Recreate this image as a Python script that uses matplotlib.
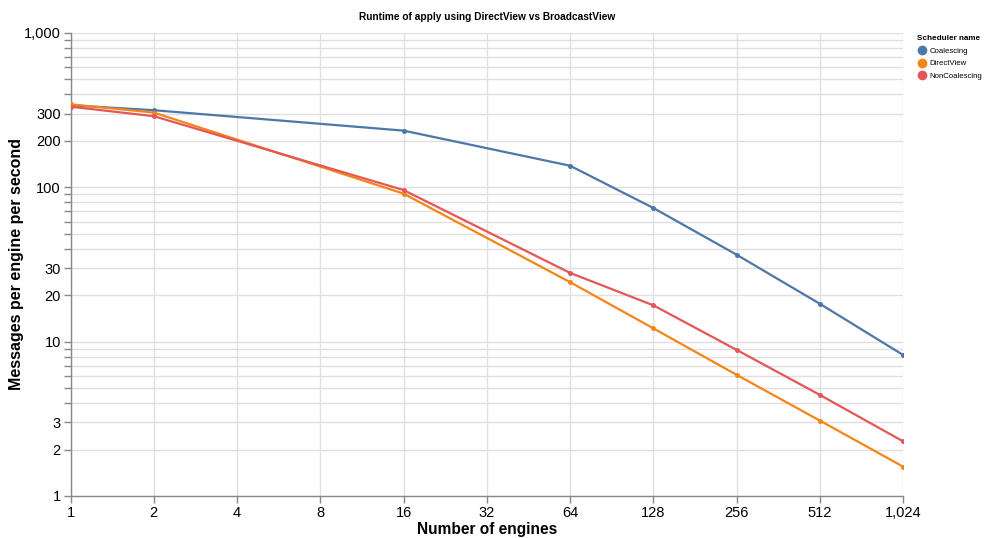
import numpy as np
import matplotlib.pyplot as plt
from matplotlib.ticker import FixedLocator, FuncFormatter
from matplotlib.lines import Line2D

plt.rcParams['font.family'] = ['Liberation Sans', 'DejaVu Sans']

engines = [1, 2, 16, 64, 128, 256, 512, 1024]
coalescing = [340, 316, 233, 138, 73.5, 36.6, 17.6, 8.2]
directview = [345, 305, 91, 24.3, 12.2, 6.1, 3.08, 1.55]
noncoalescing = [333, 289, 96, 27.9, 17.2, 8.85, 4.52, 2.26]

series = [
    ("Coalescing", coalescing, "#4c78a8"),
    ("DirectView", directview, "#f58518"),
    ("NonCoalescing", noncoalescing, "#e45756"),
]

x_ticks = [1, 2, 4, 8, 16, 32, 64, 128, 256, 512, 1024]
y_labeled = [1, 2, 3, 10, 20, 30, 100, 200, 300, 1000]

fig = plt.figure(figsize=(9.85, 5.38), dpi=100)
ax = fig.add_axes([0.0716, 0.0781, 0.9168 - 0.0716, 0.9387 - 0.0781])

for name, vals, col in series:
    ax.plot(engines, vals, color=col, lw=1.6, marker='o', ms=3.6,
            markeredgewidth=0, zorder=3)

ax.set_xscale('log', base=2)
ax.set_yscale('log')
ax.set_xlim(1, 1024)
ax.set_ylim(1, 1000)

ax.xaxis.set_major_locator(FixedLocator(x_ticks))
ax.xaxis.set_minor_locator(FixedLocator([]))
ax.xaxis.set_major_formatter(FuncFormatter(lambda v, p: f"{int(round(v)):,}"))

# grid and ticks at every 1..9 step of each decade, labels only on some
y_all = [m * 10**d for d in range(0, 3) for m in range(1, 10)] + [1000]
ax.yaxis.set_major_locator(FixedLocator(y_all))
ax.yaxis.set_minor_locator(FixedLocator([]))
ax.yaxis.set_major_formatter(FuncFormatter(
    lambda v, p: f"{int(round(v)):,}" if int(round(v)) in y_labeled else ""))

ax.grid(True, color='#e0e0e0', lw=1.0, zorder=0)
ax.tick_params(axis='both', length=5, width=1, color='#888888',
               labelsize=10.5, labelcolor='#000000', pad=2)
for side in ['top', 'right']:
    ax.spines[side].set_visible(False)
for side in ['left', 'bottom']:
    ax.spines[side].set_color('#888888')
    ax.spines[side].set_linewidth(1)

ax.set_xlabel("Number of engines", fontsize=11.2, fontweight='bold', labelpad=2)
ax.set_ylabel("Messages per engine per second", fontsize=11.5, fontweight='bold')
ax.yaxis.set_label_coords(-0.056, 0.5)
ax.set_title("Runtime of apply using DirectView vs BroadcastView", fontsize=7.3,
             fontweight='bold', pad=9)

handles = [Line2D([], [], ls='', marker='o', ms=7, markeredgewidth=0, color=c)
           for _, _, c in series]
leg = fig.legend(handles, [n for n, _, _ in series], title="Scheduler name",
                 loc='upper left', bbox_to_anchor=(0.931, 0.935), frameon=False,
                 fontsize=5.6, title_fontsize=5.9, handlelength=1.25,
                 handletextpad=0.4, labelspacing=0.62, borderaxespad=0,
                 borderpad=0)
leg.get_title().set_fontweight('bold')
leg._legend_box.align = "left"
leg._legend_box.sep = 4

fig.savefig("out.png", dpi=100)
